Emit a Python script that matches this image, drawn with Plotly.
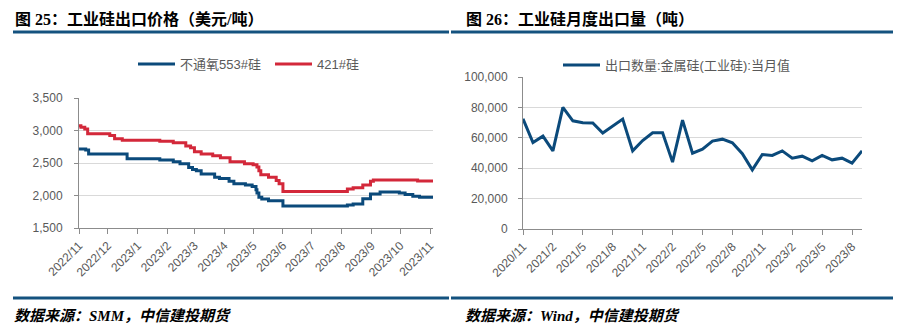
import plotly.graph_objects as go

W, H = 899, 328

# ---- Left chart data: export price (USD/t), change points (step series)
blue_dates = ["2022-11-01", "2022-11-08", "2022-11-11", "2022-12-21", "2023-01-24", "2023-02-07",
              "2023-02-14", "2023-02-23", "2023-02-27", "2023-03-03", "2023-03-08", "2023-03-22",
              "2023-03-27", "2023-04-06", "2023-04-11", "2023-04-23", "2023-04-30", "2023-05-04",
              "2023-05-05", "2023-05-07", "2023-05-10", "2023-05-17", "2023-06-01", "2023-08-07",
              "2023-08-13", "2023-08-23", "2023-08-31", "2023-09-10", "2023-09-30", "2023-10-06",
              "2023-10-14", "2023-10-21", "2023-11-04"]
blue_vals = [2715, 2700, 2640, 2565, 2545, 2520,
             2490, 2430, 2400, 2380, 2330, 2280,
             2260, 2220, 2180, 2160, 2140, 2090,
             2040, 1975, 1945, 1920, 1840, 1855,
             1870, 1950, 2025, 2055, 2040, 2015,
             1990, 1975, 1975]

red_dates = ["2022-11-01", "2022-11-03", "2022-11-07", "2022-11-10", "2022-12-03", "2022-12-08",
             "2022-12-16", "2023-01-24", "2023-02-07", "2023-02-20", "2023-02-25", "2023-03-01",
             "2023-03-08", "2023-03-20", "2023-03-28", "2023-04-07", "2023-04-22", "2023-05-01",
             "2023-05-05", "2023-05-07", "2023-05-09", "2023-05-17", "2023-05-25", "2023-05-28",
             "2023-06-01", "2023-08-07", "2023-08-13", "2023-08-23", "2023-08-31", "2023-09-03",
             "2023-10-19", "2023-11-04"]
red_vals = [3075, 3050, 3025, 2950, 2925, 2875,
            2850, 2835, 2810, 2760, 2735, 2675,
            2640, 2610, 2580, 2520, 2490, 2475,
            2440, 2380, 2320, 2280, 2230, 2180,
            2060, 2100, 2120, 2160, 2220, 2240,
            2225, 2225]

# ---- Right chart data: monthly export volume (t)
months = ["2020/11", "2020/12", "2021/1", "2021/2", "2021/3", "2021/4", "2021/5", "2021/6",
          "2021/7", "2021/8", "2021/9", "2021/10", "2021/11", "2021/12", "2022/1", "2022/2",
          "2022/3", "2022/4", "2022/5", "2022/6", "2022/7", "2022/8", "2022/9", "2022/10",
          "2022/11", "2022/12", "2023/1", "2023/2", "2023/3", "2023/4", "2023/5", "2023/6",
          "2023/7", "2023/8", "2023/9"]
volume = [72500, 56900, 61100, 51400, 80000, 71200, 69900, 69700,
          63100, 67500, 72300, 51400, 58200, 63300, 63300, 44000,
          71600, 49900, 52500, 57800, 59100, 56700, 49500, 38900,
          49000, 48400, 51400, 46600, 47900, 44800, 48400, 45500,
          46600, 43300, 51400]
month_ticks = months[::3]

BLUE = "#0B4A7B"
RED = "#D3283A"
RULE = "#14527F"
GREY_TXT = "#595959"
AXIS = "#8C8C8C"
GRID = "#D9D9D9"
FONT = "Liberation Sans, Noto Sans CJK SC, sans-serif"

fig = go.Figure()
fig.add_trace(go.Scatter(x=blue_dates, y=blue_vals, mode="lines", line_shape="hv",
                         name="不通氧553#硅", line=dict(color=BLUE, width=3),
                         xaxis="x", yaxis="y", legend="legend"))
fig.add_trace(go.Scatter(x=red_dates, y=red_vals, mode="lines", line_shape="hv",
                         name="421#硅", line=dict(color=RED, width=3),
                         xaxis="x", yaxis="y", legend="legend"))
fig.add_trace(go.Scatter(x=months, y=volume, mode="lines",
                         name="出口数量:金属硅(工业硅):当月值", line=dict(color=BLUE, width=3),
                         xaxis="x2", yaxis="y2", legend="legend2"))

def px_x(v):
    return v / W

def px_y(v):
    return 1 - v / H

tickfont = dict(family=FONT, size=12, color=GREY_TXT)
common = dict(automargin=False, mirror=False, zeroline=False, showline=True,
              linecolor=AXIS, linewidth=1, tickcolor=AXIS, tickfont=tickfont)

fig.update_layout(
    template="none",
    width=W, height=H,
    margin=dict(l=0, r=0, t=0, b=0, autoexpand=False),
    paper_bgcolor="white", plot_bgcolor="white",
    hovermode=False,
    xaxis=dict(domain=[px_x(79), px_x(433)], anchor="y", type="date",
               range=["2022-11-01", "2023-11-04"], dtick="M1", tick0="2022-11-01",
               tickformat="%Y/%-m", tickangle=-45, showgrid=False,
               ticks="outside", ticklen=5, **common),
    yaxis=dict(domain=[px_y(228), px_y(98)], anchor="x", range=[1500, 3500], dtick=500,
               tickformat=",", showgrid=True, gridcolor=GRID, gridwidth=1,
               ticks="outside", ticklen=4, ticklabelstandoff=9, **common),
    xaxis2=dict(domain=[px_x(523), px_x(862)], anchor="y2", type="category",
                range=[0, len(months) - 1], tickmode="array", tickvals=month_ticks,
                ticktext=month_ticks, tickangle=-45, showgrid=False,
                ticks="outside", ticklen=5, **common),
    yaxis2=dict(domain=[px_y(229), px_y(77)], anchor="x2", range=[0, 100000], dtick=20000,
                tickformat=",", showgrid=True, gridcolor=GRID, gridwidth=1,
                ticks="outside", ticklen=4, ticklabelstandoff=8, **common),
    legend=dict(orientation="h", x=px_x(133), y=px_y(64), xanchor="left", yanchor="middle",
                itemwidth=37, entrywidth=85,
                font=dict(family=FONT, size=13, color=GREY_TXT), bgcolor="rgba(0,0,0,0)",
                itemclick=False, itemdoubleclick=False),
    legend2=dict(orientation="h", x=px_x(558), y=px_y(65), xanchor="left", yanchor="middle",
                 itemwidth=37,
                 font=dict(family=FONT, size=13, color=GREY_TXT), bgcolor="rgba(0,0,0,0)",
                 itemclick=False, itemdoubleclick=False),
    showlegend=True,
)

title_font = dict(family="Liberation Serif, Noto Sans CJK SC, serif", size=16, color="black")
src_font = dict(family="Liberation Serif, Noto Sans CJK SC, serif", size=15, color="black")
fig.add_annotation(text="<b>图 25：工业硅出口价格（美元/吨）</b>", x=px_x(13), y=px_y(19),
                   xref="paper", yref="paper", xanchor="left", yanchor="middle",
                   showarrow=False, font=title_font)
fig.add_annotation(text="<b>图 26：工业硅月度出口量（吨）</b>", x=px_x(464), y=px_y(19),
                   xref="paper", yref="paper", xanchor="left", yanchor="middle",
                   showarrow=False, font=title_font)
fig.add_annotation(text="<b><i>数据来源：SMM，中信建投期货</i></b>", x=px_x(12), y=px_y(316),
                   xref="paper", yref="paper", xanchor="left", yanchor="middle",
                   showarrow=False, font=src_font)
fig.add_annotation(text="<b><i>数据来源：Wind，中信建投期货</i></b>", x=px_x(463), y=px_y(316),
                   xref="paper", yref="paper", xanchor="left", yanchor="middle",
                   showarrow=False, font=src_font)

for (x0, x1) in [(13, 449), (451, 893)]:
    for yy in (32, 298):
        fig.add_shape(type="line", xref="paper", yref="paper",
                      x0=px_x(x0), x1=px_x(x1), y0=px_y(yy), y1=px_y(yy),
                      line=dict(color=RULE, width=3))

fig.write_html("out.html")
